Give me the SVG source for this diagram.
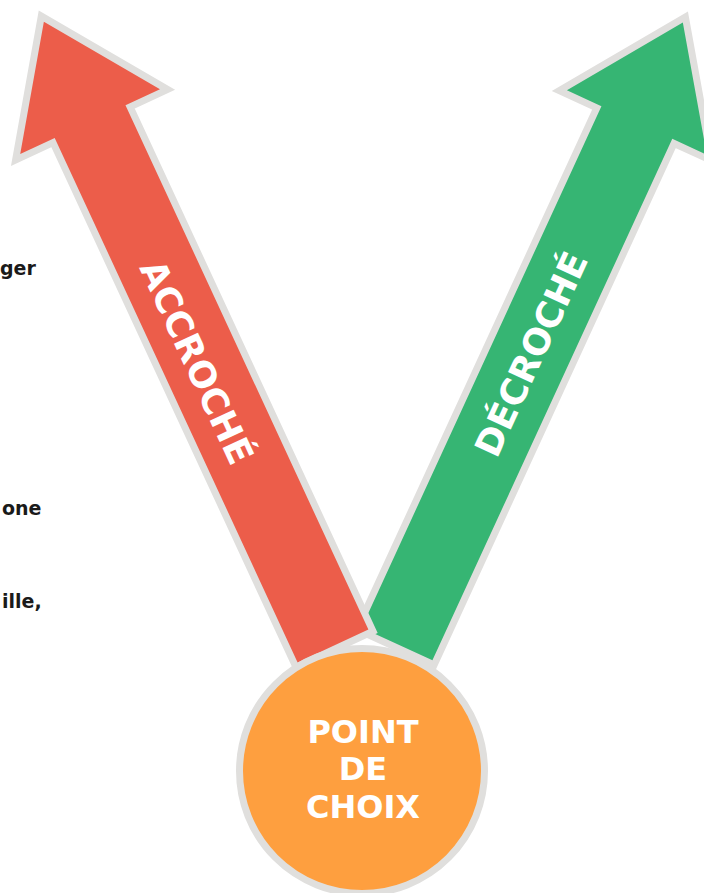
<svg xmlns="http://www.w3.org/2000/svg" width="704" height="893" viewBox="0 0 704 893">
  <style>
    .halo { fill: #E0DFDD; stroke: #E0DFDD; stroke-width: 14; stroke-linejoin: miter; stroke-miterlimit: 6; }
    .lbl { fill: #FFFFFF; font-family: "DejaVu Sans", Verdana, sans-serif; font-weight: bold; text-anchor: middle; }
    .side { fill: #1A1A1A; font-family: "DejaVu Sans", sans-serif; font-weight: bold; font-size: 19px; }
  </style>
  <defs>
    <polygon id="arrowR" points="-39,0 -39,-578 -77,-578 0,-688 77,-578 39,-578 39,0"/>
    <polygon id="arrowG" points="-39,0 -39,-574 -77,-574 0,-684 77,-574 39,-574 39,0"/>
  </defs>
  <rect width="704" height="893" fill="#FFFFFF"/>
  <g id="side-texts">
    <text class="side" x="0" y="275">ger</text>
    <text class="side" x="2" y="515">one</text>
    <text class="side" x="2" y="608">ille,</text>
  </g>
  <g id="connectors">
    <g id="arrow-decroche" transform="translate(397,644) rotate(24.7)">
      <use href="#arrowG" class="halo"/>
      <use href="#arrowG" fill="#36B573"/>
    </g>
    <g id="arrow-accroche" transform="translate(333,646) rotate(-24.85)">
      <use href="#arrowR" class="halo"/>
      <use href="#arrowR" fill="#EC5D4A"/>
    </g>
  </g>
  <g id="label-accroche" transform="translate(197,362) rotate(65.15)">
    <text class="lbl" x="0" y="13" font-size="36">ACCROCHÉ</text>
  </g>
  <g id="label-decroche" transform="translate(531,354) rotate(-65.3)">
    <text class="lbl" x="0" y="13" font-size="36">DÉCROCHÉ</text>
  </g>
  <g id="node-point-de-choix">
    <circle cx="362" cy="771" r="122.5" fill="#FE9F3F" stroke="#E0DFDD" stroke-width="7"/>
    <text class="lbl" x="363" y="743" font-size="32">POINT</text>
    <text class="lbl" x="363" y="780" font-size="32">DE</text>
    <text class="lbl" x="363" y="818" font-size="32">CHOIX</text>
  </g>
</svg>
